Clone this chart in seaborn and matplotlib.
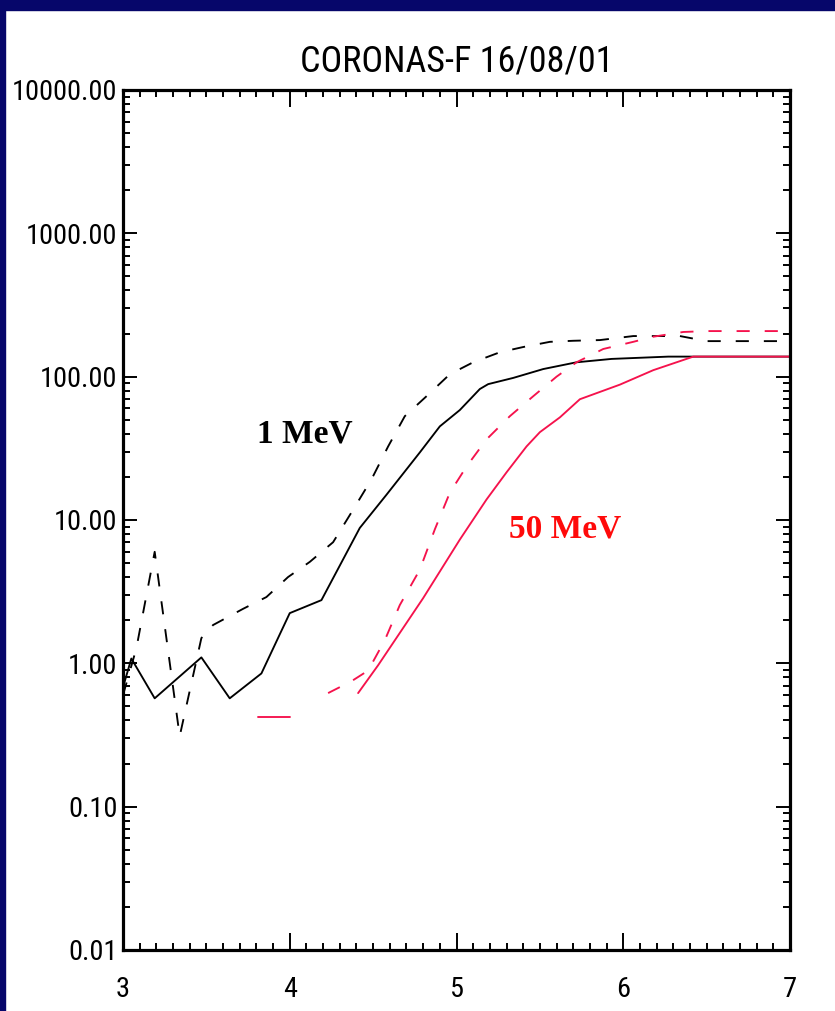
import numpy as np
import pandas as pd
import matplotlib
matplotlib.use("Agg")
import matplotlib.pyplot as plt
from matplotlib import font_manager
from matplotlib.font_manager import FontProperties
from matplotlib.patches import Rectangle
from matplotlib.ticker import LogLocator, MultipleLocator, FuncFormatter, NullFormatter
import seaborn as sns

# Time axis (hours UT) and flux values for the four curves
black_solid_x = [3.0, 3.05, 3.19, 3.47, 3.64, 3.83, 4.0, 4.19, 4.42, 4.58, 4.78, 4.90,
                 5.02, 5.14, 5.19, 5.34, 5.52, 5.72, 5.93, 6.27, 6.45, 7.0]
black_solid_y = [0.68, 1.08, 0.57, 1.10, 0.57, 0.85, 2.24, 2.76, 8.8, 15.0, 29.6, 45.0,
                 58.5, 82.0, 88.7, 98.0, 113.0, 126.0, 133.0, 138.0, 138.0, 138.0]

black_dash_x = [3.0, 3.08, 3.19, 3.34, 3.47, 3.54, 3.72, 3.86, 3.99, 4.12, 4.26, 4.38,
                4.49, 4.59, 4.69, 4.82, 4.96, 5.10, 5.26, 5.40, 5.56, 5.70, 5.86, 6.06,
                6.34, 6.50, 7.0]
black_dash_y = [0.6, 1.27, 6.0, 0.31, 1.5, 1.85, 2.4, 2.9, 4.0, 5.1, 7.0, 11.8,
                19.2, 32.6, 53.0, 73.0, 104.0, 126.0, 148.0, 161.0, 175.0, 178.0, 180.0, 192.0,
                192.0, 177.0, 177.0]

red_solid_x = [3.81, 4.0, np.nan, 4.41, 4.53, 4.80, 5.02, 5.18, 5.30, 5.42, 5.50, 5.62,
               5.74, 5.98, 6.18, 6.42, 7.0]
red_solid_y = [0.42, 0.42, np.nan, 0.62, 0.97, 2.85, 7.3, 13.9, 21.5, 32.6, 41.0, 52.0,
               69.6, 88.0, 111.0, 138.0, 138.0]

red_dash_x = [4.23, 4.37, 4.47, 4.57, 4.66, 4.78, 4.87, 4.96, 5.06, 5.18, 5.32, 5.46,
              5.60, 5.72, 5.88, 6.06, 6.18, 6.36, 6.50, 7.0]
red_dash_y = [0.62, 0.75, 0.89, 1.45, 2.55, 4.5, 8.6, 15.5, 23.6, 36.5, 53.0, 73.0,
              100.0, 126.0, 156.0, 175.0, 190.0, 205.0, 208.0, 208.0]

title_text = "CORONAS-F 16/08/01"
label_low = ("1 MeV", 4.09, 40.0)
label_high = ("50 MeV", 5.65, 8.7)

x_ticks = [3, 4, 5, 6, 7]
y_range = (0.01, 10000.0)

NAVY = "#06066a"
RED_LINE = "#f5124c"
RED_TEXT = "#ff0a0a"

sns.set_theme(style="ticks")

installed = {f.name for f in font_manager.fontManager.ttflist}


def narrow_sans():
    """Return (family, stretch) for the narrowest sans face available."""
    for name in ("Liberation Sans Narrow", "Roboto Condensed", "Open Sans Condensed",
                 "Noto Sans Condensed", "DejaVu Sans Condensed"):
        if name in installed:
            return name, "normal"
    for name in ("DejaVu Sans", "Noto Sans", "Open Sans"):
        if name in installed:
            path = font_manager.findfont(FontProperties(family=name, stretch="condensed"),
                                         fallback_to_default=False)
            if "ondensed" in path or "arrow" in path:
                return name, "condensed"
    for name in ("Roboto", "Liberation Sans", "DejaVu Sans"):
        if name in installed:
            return name, "normal"
    return "DejaVu Sans", "normal"


axis_font, axis_stretch = narrow_sans()
label_font = "Liberation Serif" if "Liberation Serif" in installed else "DejaVu Serif"
plt.rcParams["font.family"] = [axis_font, "DejaVu Sans"]
plt.rcParams["font.stretch"] = axis_stretch

W, H = 835, 1011
fig = plt.figure(figsize=(W / 100, H / 100), dpi=100, facecolor="white")
renderer = fig.canvas.get_renderer()


def size_for_width(text, width_px, family, weight="normal", stretch="normal"):
    """Font size (pt) at which `text` spans `width_px` pixels."""
    prop = FontProperties(family=family, weight=weight, stretch=stretch, size=20)
    w, _, _ = renderer.get_text_width_height_descent(text, prop, ismath=False)
    return 20 * width_px / w


tick_size = min(size_for_width("10000.00", 106, axis_font, stretch=axis_stretch), 21)
title_size = min(size_for_width(title_text, 318, axis_font, stretch=axis_stretch), 26)
label_size = min(size_for_width("50 MeV", 112, label_font, weight="bold"), 25)

# dark frame strips along the top and left edges
fig.patches.append(Rectangle((0, 1 - 10 / H), 1, 10 / H, transform=fig.transFigure,
                             color=NAVY, zorder=0))
fig.patches.append(Rectangle((0, 0), 5 / W, 1, transform=fig.transFigure,
                             color=NAVY, zorder=0))

ax = fig.add_axes([123 / W, 1 - 950 / H, (790 - 123) / W, (950 - 90) / H])
ax.set_facecolor("white")


def segments(xs, ys):
    """Split a series at NaN gaps so each piece is drawn separately."""
    df = pd.DataFrame({"x": xs, "y": ys})
    df["seg"] = df["x"].isna().cumsum()
    return [g.dropna() for _, g in df.groupby("seg")]


series = [
    (black_dash_x, black_dash_y, "black", (0, (7, 8)), 1.35),
    (black_solid_x, black_solid_y, "black", "-", 1.35),
    (red_dash_x, red_dash_y, RED_LINE, (0, (7, 8)), 1.35),
    (red_solid_x, red_solid_y, RED_LINE, "-", 1.35),
]
for xs, ys, color, ls, lw in series:
    for seg in segments(xs, ys):
        if len(seg) < 2:
            continue
        sns.lineplot(data=seg, x="x", y="y", ax=ax, color=color, linewidth=lw,
                     estimator=None, sort=False, legend=False)
        ax.lines[-1].set_linestyle(ls)

ax.set_yscale("log")
ax.set_xlim(3, 7)
ax.set_ylim(*y_range)
ax.set_xlabel("")
ax.set_ylabel("")
ax.xaxis.label.set_visible(False)
ax.yaxis.label.set_visible(False)

ax.xaxis.set_major_locator(plt.FixedLocator(x_ticks))
ax.xaxis.set_minor_locator(MultipleLocator(0.1))
ax.xaxis.set_major_formatter(FuncFormatter(lambda v, p: f"{v:.0f}"))
ax.yaxis.set_major_locator(LogLocator(base=10, numticks=20))
ax.yaxis.set_minor_locator(LogLocator(base=10, subs=np.arange(2, 10), numticks=100))
ax.yaxis.set_major_formatter(FuncFormatter(lambda v, p: f"{v:.2f}"))
ax.yaxis.set_minor_formatter(NullFormatter())

for side in ["left", "right", "top", "bottom"]:
    ax.spines[side].set_visible(True)
    ax.spines[side].set_linewidth(2.3)
    ax.spines[side].set_color("black")

ax.tick_params(axis="both", which="both", direction="in", top=True, right=True,
               colors="black", width=1.4)
ax.tick_params(axis="x", which="major", length=12, pad=19, labelsize=tick_size)
ax.tick_params(axis="x", which="minor", length=5)
ax.tick_params(axis="y", which="major", length=10, pad=4, labelsize=tick_size)
ax.tick_params(axis="y", which="minor", length=5)

ax.text(label_low[1], label_low[2], label_low[0], ha="center", va="center",
        fontsize=label_size, fontweight="bold", family=[label_font, "DejaVu Serif"],
        color="black")
ax.text(label_high[1], label_high[2], label_high[0], ha="center", va="center",
        fontsize=label_size, fontweight="bold", family=[label_font, "DejaVu Serif"],
        color=RED_TEXT)

fig.text((123 + 790) / 2 / W, 1 - 62 / H, title_text, ha="center", va="center",
         fontsize=title_size, color="black")

fig.savefig("out.png", dpi=100, facecolor="white")
